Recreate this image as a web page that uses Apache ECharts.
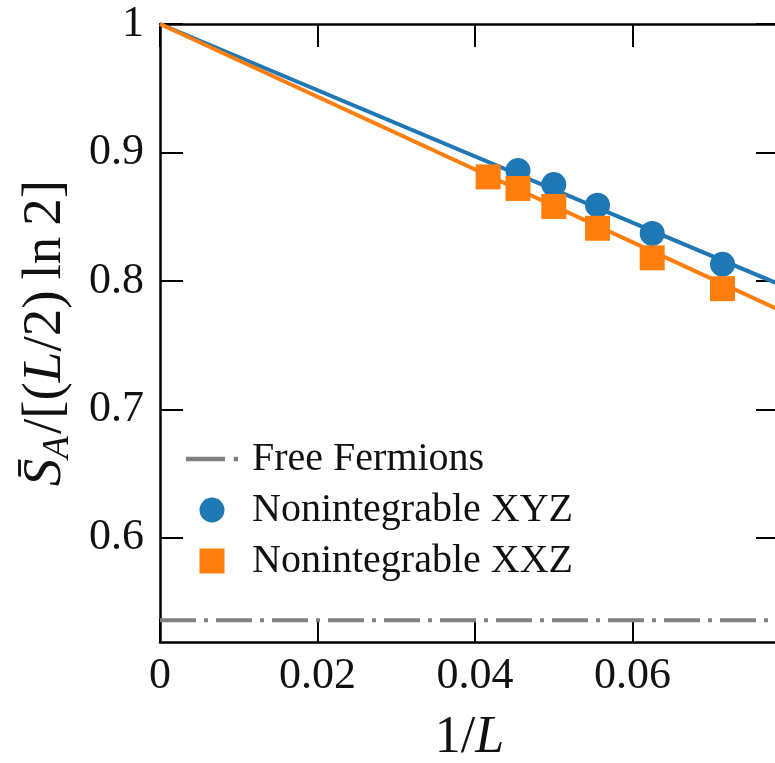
<!DOCTYPE html>
<html>
<head>
<meta charset="utf-8">
<script src="https://cdn.jsdelivr.net/npm/echarts@6/dist/echarts.min.js"></script>
<style>html,body{margin:0;padding:0;background:#fff;}#c{width:775px;height:763px;}</style>
</head>
<body>
<div id="c"></div>
<script>
// ---- data ----
var invL = [1/24, 1/22, 1/20, 1/18, 1/16, 1/14];
var xyzInvL = [1/22, 1/20, 1/18, 1/16, 1/14];
var xyzValues = [0.886, 0.875, 0.859, 0.837, 0.813];
var xxzValues = [0.881, 0.872, 0.858, 0.841, 0.818, 0.794];
var fitX = [0, 0.0786];
var xyzFit = [1.0, 0.7975];
var xxzFit = [1.0, 0.7775];
var freeFermion = 0.536;
var xTicks = [0, 0.02, 0.04, 0.06];
var yTicks = [0.6, 0.7, 0.8, 0.9, 1.0];
var xRange = [0, 0.0786];
var yRange = [0.519, 1.0];
var names = ['Free Fermions', 'Nonintegrable XYZ', 'Nonintegrable XXZ'];

function pairs(xs, ys) { return xs.map(function (x, i) { return [x, ys[i]]; }); }
function fmt(v) { return String(Math.round(v * 1000) / 1000); }

var SERIF = '"Liberation Serif", "DejaVu Serif", serif';
var chart = echarts.init(document.getElementById('c'), null, { renderer: 'canvas' });

function ticks(vals) {
  return { show: true, inside: true, length: 23, customValues: vals, lineStyle: { color: '#000', width: 2 } };
}
var lineAx = { show: true, onZero: false, lineStyle: { color: '#000', width: 2.5 } };

chart.setOption({
  animation: false,
  backgroundColor: '#fff',
  grid: { left: 160, right: -4, top: 24, bottom: 121, containLabel: false, outerBoundsMode: 'none' },
  xAxis: [{
    type: 'value', min: xRange[0], max: xRange[1], position: 'bottom',
    axisLine: lineAx, axisTick: ticks(xTicks), splitLine: { show: false },
    axisLabel: { customValues: xTicks, formatter: fmt, margin: 12, color: '#111',
      fontFamily: SERIF, fontSize: 44 },
    name: '{n|1/}{i|L}', nameLocation: 'middle', nameGap: 70,
    nameTextStyle: { rich: {
      n: { fontFamily: SERIF, fontSize: 52, color: '#111' },
      i: { fontFamily: SERIF, fontSize: 52, fontStyle: 'italic', color: '#111' } } }
  }, {
    type: 'value', min: xRange[0], max: xRange[1], position: 'top',
    axisLine: lineAx, axisTick: ticks(xTicks),
    axisLabel: { show: false }, splitLine: { show: false }
  }],
  yAxis: [{
    type: 'value', min: yRange[0], max: yRange[1], position: 'left',
    axisLine: lineAx, axisTick: ticks(yTicks), splitLine: { show: false },
    axisLabel: { customValues: yTicks, formatter: fmt, margin: 16, color: '#111',
      fontFamily: SERIF, fontSize: 44 }
  }, {
    type: 'value', min: yRange[0], max: yRange[1], position: 'right',
    axisLine: lineAx, axisTick: ticks(yTicks),
    axisLabel: { show: false }, splitLine: { show: false }
  }],
  legend: {
    data: [
      { name: names[0], icon: 'path://M0,0h36v4h-36z M44,0h4v4h-4z' },
      { name: names[1], icon: 'circle' },
      { name: names[2], icon: 'path://M0,0h10v10h-10z' }
    ],
    orient: 'vertical', left: 181, top: 434, itemGap: 11,
    itemWidth: 52, itemHeight: 25, symbolKeepAspect: true,
    textStyle: { fontFamily: SERIF, fontSize: 40, color: '#111', padding: [0, 0, 0, 9] }
  },
  graphic: [{
    type: 'text', x: 46, y: 333, rotation: Math.PI / 2,
    style: {
      text: '{i|S\u0304}{sub|A}{n|/[(}{i|L}{n|/2)\u2009ln\u20092]}',
      align: 'center', verticalAlign: 'middle',
      rich: {
        n: { fontFamily: SERIF, fontSize: 55, fill: '#111' },
        i: { fontFamily: SERIF, fontSize: 55, fontStyle: 'italic', fill: '#111' },
        sub: { fontFamily: SERIF, fontSize: 37, fontStyle: 'italic', fill: '#111', padding: [24, 2, 0, 0] }
      }
    }
  }],
  series: [{
    name: names[0], type: 'line', data: pairs(fitX, [freeFermion, freeFermion]),
    symbol: 'none', z: 1, color: '#808080',
    lineStyle: { color: '#808080', width: 4, type: [36, 8, 4, 8] }
  }, {
    name: 'xyzFit', type: 'line', data: pairs(fitX, xyzFit), symbol: 'none', z: 2,
    lineStyle: { color: '#1f77b4', width: 4 }
  }, {
    name: 'xxzFit', type: 'line', data: pairs(fitX, xxzFit), symbol: 'none', z: 3,
    lineStyle: { color: '#ff7f0e', width: 4 }
  }, {
    name: names[1], type: 'scatter', data: pairs(xyzInvL, xyzValues), z: 4,
    symbol: 'circle', symbolSize: 25, itemStyle: { color: '#1f77b4', opacity: 1 }
  }, {
    name: names[2], type: 'scatter', data: pairs(invL, xxzValues), z: 5,
    symbol: 'rect', symbolSize: 25, itemStyle: { color: '#ff7f0e', opacity: 1 }
  }]
});
</script>
</body>
</html>
